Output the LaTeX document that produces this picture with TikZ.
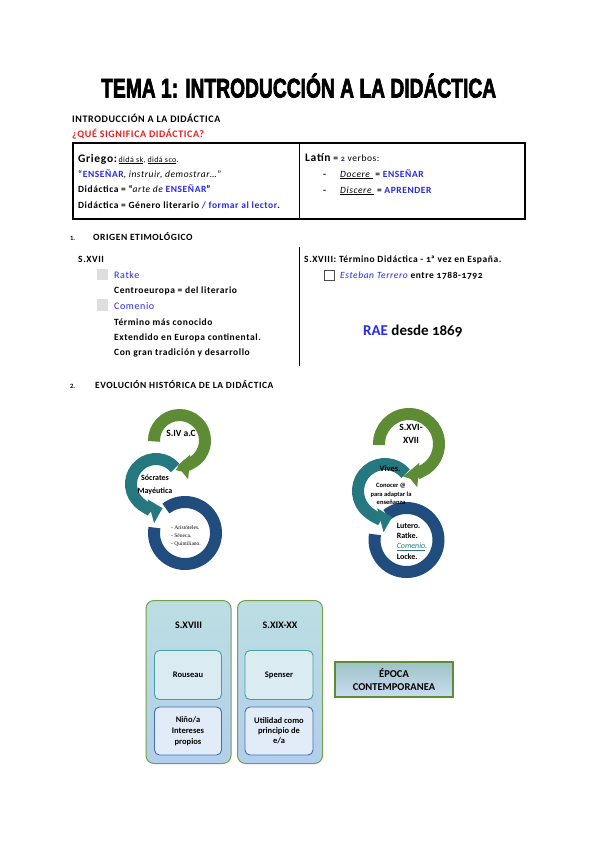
\documentclass[tikz,border=0pt]{standalone}
\usepackage{fontspec}
\setmainfont{Carlito}
\newfontfamily\titlefont[FakeBold=3]{Liberation Sans}
\newfontfamily\tinyserif{Liberation Serif}
\usetikzlibrary{arrows.meta}
\definecolor{txtblue}{RGB}{40,40,235}
\definecolor{txtred}{RGB}{235,30,30}
\definecolor{rgreen}{RGB}{94,140,52}
\definecolor{rteal}{RGB}{38,120,128}
\definecolor{rblue}{RGB}{32,76,126}
\definecolor{boxgreen}{RGB}{118,160,72}
\definecolor{boxtop}{RGB}{188,222,226}
\definecolor{boxbot}{RGB}{178,206,236}
\definecolor{innerteal}{RGB}{70,160,160}
\definecolor{innerblue}{RGB}{70,110,170}
\definecolor{innerfill}{RGB}{218,236,242}
\definecolor{innerfillb}{RGB}{226,236,248}
\definecolor{chkgrey}{RGB}{222,222,222}
\newcommand\ringarrow[6]{%
  \draw[line width=12pt, #1, -{Triangle[width=24pt 0, length=12pt 0]}]
    (#2,#3) ++(#5:#4) arc[start angle=#5, end angle=#6, radius=#4];}
\newcommand\spaced[1]{\addfontfeature{LetterSpace=#1}}
\newcommand\oldnum{\addfontfeature{Numbers=OldStyle}}
\begin{document}
\begin{tikzpicture}[x=1pt,y=1pt,
  txt/.style={anchor=base west, inner sep=0pt, font=\fontsize{9.5}{11}\selectfont\bfseries\spaced{6}},
  head/.style={anchor=base west, inner sep=0pt, font=\fontsize{10}{12}\selectfont\bfseries\spaced{6}},
  ringtxt/.style={align=center, inner sep=0pt, font=\fontsize{8.5}{10}\selectfont\bfseries},
  tallbox/.style={draw=boxgreen, line width=1pt, rounded corners=8pt, top color=boxtop, bottom color=boxbot},
  innerbox/.style={draw=innerteal, line width=0.9pt, rounded corners=5pt, fill=innerfill, align=center, font=\fontsize{8.5}{11}\selectfont\bfseries},
  innerboxb/.style={draw=innerblue, line width=0.9pt, rounded corners=5pt, fill=innerfillb, align=center, font=\fontsize{8.5}{11}\selectfont\bfseries},
]
\useasboundingbox (0,0) rectangle (600,-848);
\fill[white] (0,0) rectangle (600,-848);

% title
\node[anchor=base west, inner sep=0pt] (title) at (101,-97.5)
  {\resizebox{395pt}{\height}{\titlefont\bfseries\fontsize{27}{28}\selectfont TEMA 1: INTRODUCCIÓN A LA DIDÁCTICA}};

\node[head] (intro) at (72,-123) {INTRODUCCIÓN A LA DIDÁCTICA};
\node[head, text=txtred] (que) at (72,-137) {¿QUÉ SIGNIFICA DIDÁCTICA?};

% table
\draw[line width=1.2pt] (73,-143) rectangle (525,-219);
\draw[line width=1.2pt] (299.5,-143) -- (299.5,-219);

\node[txt] (griego) at (78,-162) {{\fontsize{11.5}{13}\selectfont\bfseries\spaced{6}Griego:}\,{\fontsize{8}{10}\selectfont\mdseries\spaced{5}\underline{didá sk}, \underline{didá sco}.}};
\node[txt] (ensenar) at (78,-177) {{\color{txtblue}“ENSEÑAR}\mdseries\spaced{6}, \textit{instruir, demostrar…}”};
\node[txt] (arte) at (78,-192) {Didáctica = “{\mdseries\itshape\spaced{6}arte de} {\color{txtblue}ENSEÑAR}”};
\node[txt] (genero) at (78,-208) {Didáctica = Género literario {\color{txtblue}/ formar al lector}.};

\node[txt] (latin) at (305,-161) {{\fontsize{11.5}{13}\selectfont\bfseries\spaced{6}Latín} = {\color{txtblue}\fontsize{8}{10}\selectfont\oldnum 2} {\mdseries\spaced{6}verbos:}};
\node[txt] (dash1) at (323,-177) {-};
\node[txt] (docere) at (340,-177) {{\mdseries\itshape\spaced{6}\underline{Docere }} = {\color{txtblue}ENSEÑAR}};
\node[txt] (dash2) at (323,-193) {-};
\node[txt] (discere) at (340,-193) {{\mdseries\itshape\spaced{6}\underline{Discere }} = {\color{txtblue}APRENDER}};

% section 1
\node[txt, font=\fontsize{6.5}{8}\selectfont\bfseries] (n1) at (70,-240) {1.};
\node[txt] (origen) at (93,-240) {ORIGEN ETIMOLÓGICO};
\draw[line width=1pt] (299.5,-247) -- (299.5,-366);

\node[txt] (sxvii) at (78,-262) {S.XVII};
\fill[chkgrey] (97,-269) rectangle (108,-280);
\node[txt, text=txtblue, font=\fontsize{10}{11}\selectfont\mdseries\spaced{6}] (ratke) at (114,-278) {Ratke};
\node[txt] (centro) at (114,-293.5) {Centroeuropa = del literario};
\fill[chkgrey] (97,-299) rectangle (108,-311);
\node[txt, text=txtblue, font=\fontsize{10}{11}\selectfont\mdseries\spaced{6}] (comenio) at (114,-309) {Comenio};
\node[txt] (termino) at (114,-325) {Término más conocido};
\node[txt] (extendido) at (114,-340.5) {Extendido en Europa continental.};
\node[txt] (tradicion) at (114,-355.5) {Con gran tradición y desarrollo};

\node[txt] (sxviii) at (304,-262) {S.XVIII: Término Didáctica - {\oldnum 1}ª vez en España.};
\draw[draw=black!70, line width=0.8pt] (324.5,-270.5) rectangle (334.5,-280);
\node[txt] (esteban) at (340,-278) {{\color{txtblue}\mdseries\itshape\spaced{6}Esteban Terrero} {\oldnum entre 1788-1792}};
\node[anchor=base west, inner sep=0pt, font=\fontsize{15}{18}\selectfont\bfseries] (rae) at (363,-335) {{\color{txtblue}RAE} {\oldnum desde 1869}};

% section 2
\node[txt, font=\fontsize{6.5}{8}\selectfont\bfseries] (n2) at (70,-388) {2.};
\node[txt] (evol) at (95,-388) {EVOLUCIÓN HISTÓRICA DE LA DIDÁCTICA};

% left cluster of ring arrows
\draw[line width=12pt, rblue] (185,-533) ++(128:31) arc[start angle=128, end angle=-190, radius=31];
\ringarrow{rteal}{156}{-484}{25}{40}{285}
\ringarrow{rgreen}{179.5}{-440.5}{25.5}{182}{-95}
\node[ringtxt, font=\fontsize{9.5}{12}\selectfont\bfseries] (siv) at (181,-433) {S.IV a.C};
\node[ringtxt, font=\fontsize{8}{13}\selectfont\bfseries] (socrates) at (155,-485) {Sócrates\\Mayéutica};
\node[align=left, inner sep=0pt, font=\tinyserif\fontsize{5.5}{8}\selectfont] (aristo) at (186,-536) {- Aristóteles.\\- Séneca.\\- Quintiliano.};

% right cluster of ring arrows
\draw[line width=12pt, rblue] (406.5,-540) ++(128:32) arc[start angle=128, end angle=-190, radius=32];
\ringarrow{rteal}{385}{-491}{27}{40}{285}
\ringarrow{rgreen}{409}{-444}{30}{182}{-95}
\node[ringtxt, font=\fontsize{9.5}{12.5}\selectfont\bfseries] (sxvi) at (411,-434) {S.XVI-\\XVII};
\node[ringtxt, font=\fontsize{8.5}{10}\selectfont\bfseries] (vives) at (390,-469) {Vives.};
\node[ringtxt, font=\fontsize{6.5}{8.5}\selectfont\bfseries] (conocer) at (391,-494) {Conocer @\\para adaptar la\\enseñanza};
\node[align=left, inner sep=0pt, font=\fontsize{8}{10.3}\selectfont\bfseries] (lutero) at (412,-541)
  {Lutero.\\Ratke.\\{\mdseries\itshape\color{rteal}\underline{Comenio}.}\\Locke.};

% bottom boxes
\node[tallbox, minimum width=85pt, minimum height=163pt, anchor=north west] (b1) at (145.5,-600) {};
\node[tallbox, minimum width=85pt, minimum height=163pt, anchor=north west] (b2) at (237,-600) {};
\node[font=\fontsize{10}{12}\selectfont\bfseries] (t1) at (b1.center |- 0,-625) {S.XVIII};
\node[font=\fontsize{10}{12}\selectfont\bfseries] (t2) at (b2.center |- 0,-625) {S.XIX-XX};
\node[innerbox, minimum width=67pt, minimum height=49pt] (rouseau) at (188,-675) {Rouseau};
\node[innerboxb, minimum width=67pt, minimum height=48pt] (nino) at (188,-731) {Niño/a\\Intereses\\propios};
\node[innerbox, minimum width=68pt, minimum height=49pt] (spenser) at (279,-675) {Spenser};
\node[innerboxb, minimum width=68pt, minimum height=48pt, font=\fontsize{8.5}{10}\selectfont\bfseries] (utilidad) at (279,-731) {Utilidad como\\principio de\\e/a};

\node[draw=rgreen, line width=1.2pt, top color=rteal!45, bottom color=boxbot!70, minimum width=118pt, minimum height=35pt, align=center, font=\fontsize{10.5}{12.5}\selectfont\bfseries] (epoca) at (394,-679.5) {ÉPOCA\\CONTEMPORANEA};
\end{tikzpicture}
\end{document}
